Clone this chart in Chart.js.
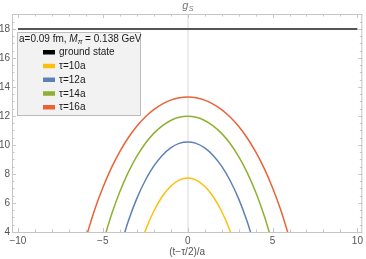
<!DOCTYPE html>
<html><head><meta charset="utf-8">
<script src="https://cdn.jsdelivr.net/npm/chart.js@4/dist/chart.umd.min.js"></script>
<style>html,body{margin:0;padding:0;background:#fff}canvas{display:block}</style>
</head><body>
<canvas id="c" width="366" height="259"></canvas>
<script>
// ---- data ----
const xTicks = [-10, -5, 0, 5, 10];
const yTicks = [4, 6, 8, 10, 12, 14, 16, 18];
const seriesLabels = ['ground state', 'τ=10a', 'τ=12a', 'τ=14a', 'τ=16a'];
const seriesColors = ['#000000', '#FDBF0F', '#5E81B5', '#8FB032', '#EB6235'];
const groundX = [-10, 10];
const groundY = [18, 18];
const tau10X = [-3, -2.5, -2, -1.5, -1, -0.5, 0, 0.5, 1, 1.5, 2, 2.5, 3];
const tau10Y = [2.33, 4.07, 5.43, 6.45, 7.16, 7.58, 7.72, 7.58, 7.16, 6.45, 5.43, 4.07, 2.33];
const tau12X = [-4, -3.5, -3, -2.5, -2, -1.5, -1, -0.5, 0, 0.5, 1, 1.5, 2, 2.5, 3, 3.5, 4];
const tau12Y = [2.84, 4.74, 6.30, 7.55, 8.54, 9.28, 9.80, 10.11, 10.21, 10.11, 9.80, 9.28, 8.54, 7.55, 6.30, 4.74, 2.84];
const tau14X = [-5, -4.5, -4, -3.5, -3, -2.5, -2, -1.5, -1, -0.5, 0, 0.5, 1, 1.5, 2, 2.5, 3, 3.5, 4, 4.5, 5];
const tau14Y = [3.23, 5.15, 6.77, 8.11, 9.21, 10.10, 10.80, 11.32, 11.69, 11.91, 11.98, 11.91, 11.69, 11.32, 10.80, 10.10, 9.21, 8.11, 6.77, 5.15, 3.23];
const tau16X = [-6, -5.5, -5, -4.5, -4, -3.5, -3, -2.5, -2, -1.5, -1, -0.5, 0, 0.5, 1, 1.5, 2, 2.5, 3, 3.5, 4, 4.5, 5, 5.5, 6];
const tau16Y = [3.57, 5.47, 7.05, 8.40, 9.54, 10.50, 11.29, 11.93, 12.44, 12.82, 13.09, 13.25, 13.30, 13.25, 13.09, 12.82, 12.44, 11.93, 11.29, 10.50, 9.54, 8.40, 7.05, 5.47, 3.57];
const xTitle = '(t−τ/2)/a';

const pts = (xs, ys) => xs.map((x, i) => ({x: x, y: ys[i]}));
const FONT = "'Liberation Sans', Arial, sans-serif";

function ds(i, xs, ys, width, color) {
  return {label: seriesLabels[i], data: pts(xs, ys), borderColor: color || seriesColors[i],
    backgroundColor: seriesColors[i], borderWidth: width, pointRadius: 0,
    cubicInterpolationMode: 'monotone', clip: 0, fill: false};
}

const framePlugin = {
  id: 'frame',
  afterDatasetsDraw(chart) {
    const {ctx, chartArea: a, scales: {x, y}} = chart;
    ctx.save();
    ctx.strokeStyle = '#c6c6c6';
    ctx.lineWidth = 1;
    ctx.strokeRect(a.left + 0.5, a.top + 0.5, a.right - a.left - 1, a.bottom - a.top);
    const line = (x1, y1, x2, y2) => { ctx.beginPath(); ctx.moveTo(x1, y1); ctx.lineTo(x2, y2); ctx.stroke(); };
    for (let v = Math.ceil(x.min); v <= x.max; v++) {
      const px = Math.round(x.getPixelForValue(v)) + 0.5;
      const L = (v % 5 === 0) ? 4 : 2.5;
      line(px, a.bottom, px, a.bottom - L);
      line(px, a.top, px, a.top + L);
    }
    for (let k = Math.ceil(y.min * 2); k / 2 <= y.max; k++) {
      const v = k / 2;
      const py = Math.round(y.getPixelForValue(v)) + 0.5;
      const L = (v % 2 === 0) ? 4 : 2.5;
      line(a.left, py, a.left + L, py);
      line(a.right, py, a.right - L, py);
    }
    ctx.restore();
  },
  afterDraw(chart) {
    const {ctx, chartArea: a} = chart;
    ctx.save();
    // chart title g_S
    const cx = (a.left + a.right) / 2;
    ctx.fillStyle = '#777';
    ctx.textBaseline = 'middle';
    ctx.font = 'italic 11px ' + FONT;
    ctx.textAlign = 'left';
    ctx.fillText('g', cx - 5, 6);
    const gw = ctx.measureText('g').width;
    ctx.font = 'italic 7px ' + FONT;
    ctx.fillText('S', cx - 5 + gw + 0.5, 9);
    // legend box
    const x0 = a.left + 5, y0 = a.top + 18, w = 123, h = 83;
    ctx.fillStyle = '#f2f2f2';
    ctx.fillRect(x0, y0, w, h);
    ctx.strokeStyle = '#bcbcbc';
    ctx.lineWidth = 1;
    ctx.strokeRect(x0 + 0.5, y0 + 0.5, w, h);
    ctx.fillStyle = '#1a1a1a';
    let tx = x0 + 2; const ty = y0 + 7;
    const piece = (txt, font, dy) => { ctx.font = font; ctx.fillText(txt, tx, ty + (dy || 0)); tx += ctx.measureText(txt).width; };
    piece('a=0.09 fm, ', '10px ' + FONT);
    piece('M', 'italic 10px ' + FONT);
    piece('π', 'italic 7px ' + FONT, 3);
    piece(' = 0.138 GeV', '10px ' + FONT);
    ctx.font = '10px ' + FONT;
    chart.data.datasets.forEach((d, i) => {
      const ry = y0 + 20 + i * 13.75;
      ctx.fillStyle = seriesColors[i];
      ctx.fillRect(x0 + 26, ry - 2, 12, 4.5);
      ctx.fillStyle = '#1a1a1a';
      ctx.fillText(d.label, x0 + 42, ry + 0.5);
    });
    ctx.restore();
  }
};

new Chart(document.getElementById('c'), {
  type: 'line',
  data: {
    datasets: [
      ds(0, groundX, groundY, 2, '#555555'),
      ds(1, tau10X, tau10Y, 1.5),
      ds(2, tau12X, tau12Y, 1.5),
      ds(3, tau14X, tau14Y, 1.5),
      ds(4, tau16X, tau16Y, 1.5)
    ]
  },
  options: {
    responsive: false,
    animation: false,
    devicePixelRatio: 1,
    layout: {padding: {top: 14, right: 3, left: 0, bottom: 0}},
    plugins: {legend: {display: false}, tooltip: {enabled: false}, title: {display: false}},
    scales: {
      x: {
        type: 'linear', min: -10.35, max: 10.29,
        afterBuildTicks: s => { s.ticks = xTicks.map(v => ({value: v})); },
        afterFit: s => { s.height = 27; },
        ticks: {padding: 3, color: '#555', font: {family: FONT, size: 10},
          callback: v => (v < 0 ? '−' + Math.abs(v) : String(v)), maxRotation: 0},
        grid: {drawTicks: false, lineWidth: 2,
          color: c => (c.tick && c.tick.value === 0 ? '#ececec' : 'rgba(0,0,0,0)')},
        border: {display: false},
        title: {display: true, text: xTitle, color: '#555', font: {family: FONT, size: 10}, padding: {top: 0, bottom: 1}}
      },
      y: {
        type: 'linear', min: 4, max: 19.03,
        afterBuildTicks: s => { s.ticks = yTicks.map(v => ({value: v})); },
        afterFit: s => { s.width = 12; },
        ticks: {padding: 2, color: '#555', font: {family: FONT, size: 10}},
        grid: {display: false, drawTicks: false},
        border: {display: false}
      }
    }
  },
  plugins: [framePlugin]
});
</script>
</body></html>
